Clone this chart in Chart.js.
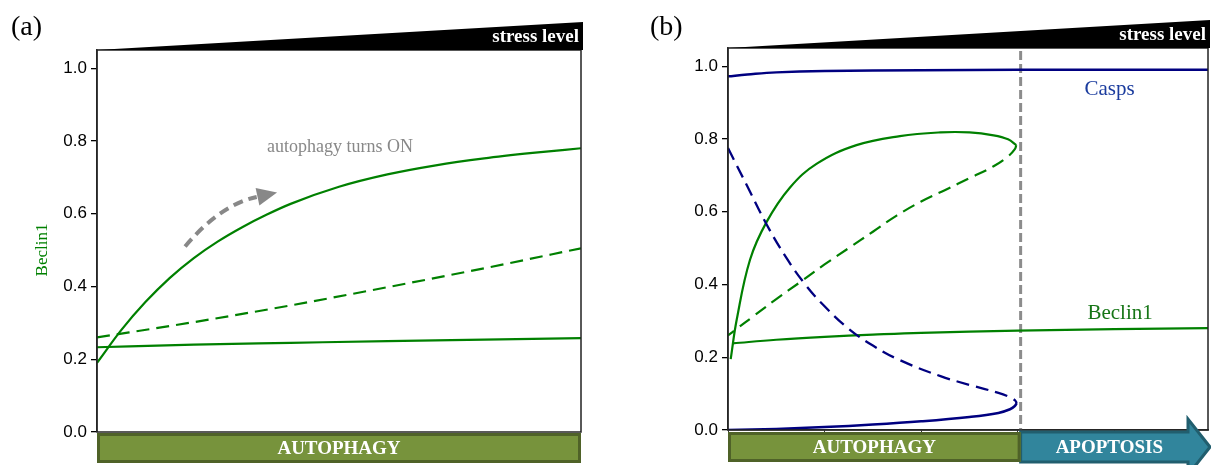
<!DOCTYPE html>
<html>
<head>
<meta charset="utf-8">
<script src="https://cdn.jsdelivr.net/npm/chart.js@4.4.1/dist/chart.umd.min.js"></script>
<style>
  html, body { margin: 0; padding: 0; background: #fff; }
  #wrap { position: relative; width: 1211px; height: 465px; overflow: hidden; background: #fff; }
  .pane { position: absolute; top: 0; height: 465px; }
</style>
</head>
<body>
<div id="wrap">
  <div class="pane" style="left:0;width:600px"><canvas id="chartA" width="600" height="465"></canvas></div>
  <div class="pane" style="left:620px;width:591px"><canvas id="chartB" width="591" height="465"></canvas></div>
</div>
<script>
// ---------- shared tick values ----------
const yTickValues = [0, 0.2, 0.4, 0.6, 0.8, 1.0];
const bStressTicks = [0, 1, 2, 3, 4];

// ---------- panel (a): Beclin1 steady states vs stress ----------
const aUpperX = [0, 0.5, 1, 1.5, 2, 2.5, 3, 3.5, 4, 5, 6, 7, 8, 9, 10];
const aUpperY = [0.19, 0.28, 0.357, 0.423, 0.478, 0.524, 0.563, 0.597, 0.627, 0.674, 0.708, 0.733, 0.752, 0.767, 0.78];
const aUnstableX = [0, 2, 4, 6, 8, 10];
const aUnstableY = [0.26, 0.302, 0.348, 0.398, 0.45, 0.505];
const aLowerX = [0, 2, 4, 6, 8, 10];
const aLowerY = [0.233, 0.24, 0.245, 0.25, 0.254, 0.258];
// curved "turns ON" arrow (start, control, end, tip) in stress/Beclin1 units
const aArrowX = [1.82, 2.55, 3.3, 3.72];
const aArrowY = [0.51, 0.625, 0.646, 0.658];

// ---------- panel (b): Beclin1 and Casps vs stress ----------
const bBeclinHighX = [0.028, 0.09, 0.228, 0.4, 0.64, 0.92, 1.33, 1.78, 2.2, 2.5, 2.75, 2.9, 2.985];
const bBeclinHighY = [0.195, 0.303, 0.468, 0.572, 0.666, 0.732, 0.783, 0.808, 0.818, 0.818, 0.81, 0.799, 0.783];
const bBeclinMidX = [2.985, 2.97, 2.9, 2.75, 2.5, 2.25, 2.0, 1.75, 1.5, 1.25, 1.0, 0.75, 0.5, 0.25, 0.1, 0.0];
const bBeclinMidY = [0.783, 0.772, 0.752, 0.725, 0.692, 0.66, 0.628, 0.59, 0.545, 0.50, 0.455, 0.407, 0.36, 0.31, 0.28, 0.26];
const bBeclinLowX = [0.05, 0.5, 1, 1.5, 2, 3, 4, 4.97];
const bBeclinLowY = [0.238, 0.248, 0.256, 0.262, 0.267, 0.273, 0.277, 0.28];
const bCaspsHighX = [0, 0.2, 0.5, 1, 2, 3, 4, 4.97];
const bCaspsHighY = [0.972, 0.977, 0.983, 0.987, 0.989, 0.99, 0.99, 0.99];
const bCaspsMidX = [0.0, 0.2, 0.4, 0.6, 0.8, 1.0, 1.25, 1.5, 1.78, 2.2, 2.5, 2.8, 2.92, 2.97, 2.99];
const bCaspsMidY = [0.775, 0.67, 0.565, 0.475, 0.40, 0.34, 0.278, 0.232, 0.192, 0.148, 0.124, 0.102, 0.09, 0.082, 0.074];
const bCaspsLowX = [0, 0.5, 1.0, 1.5, 2.0, 2.5, 2.8, 2.92, 2.97, 2.99];
const bCaspsLowY = [0.0, 0.003, 0.008, 0.015, 0.024, 0.036, 0.047, 0.057, 0.066, 0.074];
const bSwitchStress = 3.03;

const GREEN = '#008000';
const NAVY = '#000080';
const SERIF = '"Liberation Serif", "Times New Roman", serif';
const SANS = '"Liberation Sans", Arial, sans-serif';

function pts(xs, ys) { return xs.map((x, i) => ({ x: x, y: ys[i] })); }

function lineSet(xs, ys, color, dashed, width, monotone) {
  const ds = {
    data: pts(xs, ys),
    borderColor: color,
    borderWidth: width || 2.2,
    borderDash: dashed ? [13, 7] : [],
    pointRadius: 0,
    tension: 0.4,
    fill: false
  };
  if (monotone) ds.cubicInterpolationMode = 'monotone';
  return ds;
}

function yScale(px) {
  return {
    min: 0, max: 1.05,
    afterFit: s => { s.width = px; },
    afterBuildTicks: s => { s.ticks = yTickValues.map(v => ({ value: v })); },
    grid: { drawOnChartArea: false, tickLength: 6, color: '#000', lineWidth: 1.3 },
    border: { color: '#333', width: 1.5 },
    ticks: { color: '#000', font: { family: SANS, size: 17 }, padding: 4, callback: v => Number(v).toFixed(1) }
  };
}

// black wedge with "stress level" above a plot area
function drawStress(ctx, a) {
  ctx.save();
  ctx.fillStyle = '#000';
  ctx.beginPath();
  ctx.moveTo(a.left, a.top);
  ctx.lineTo(a.right + 2, a.top - 28);
  ctx.lineTo(a.right + 2, a.top);
  ctx.closePath();
  ctx.fill();
  ctx.fillStyle = '#fff';
  ctx.font = 'bold 19px ' + SERIF;
  ctx.textAlign = 'right';
  ctx.textBaseline = 'alphabetic';
  ctx.fillText('stress level', a.right - 2, a.top - 8);
  ctx.restore();
}

function drawFrame(ctx, a) {
  ctx.save();
  ctx.strokeStyle = '#222';
  ctx.lineWidth = 1.5;
  ctx.strokeRect(a.left, a.top, a.right - a.left, a.bottom - a.top);
  ctx.restore();
}

function drawBox(ctx, x0, x1, y0, y1, fill, edge, text) {
  ctx.save();
  ctx.fillStyle = fill;
  ctx.strokeStyle = edge;
  ctx.lineWidth = 3;
  ctx.fillRect(x0, y0, x1 - x0, y1 - y0);
  ctx.strokeRect(x0 + 1.5, y0 + 1.5, x1 - x0 - 3, y1 - y0 - 3);
  ctx.fillStyle = '#fff';
  ctx.font = 'bold 19px ' + SERIF;
  ctx.textAlign = 'center';
  ctx.textBaseline = 'middle';
  ctx.fillText(text, (x0 + x1) / 2, (y0 + y1) / 2 + 1);
  ctx.restore();
}

function drawLabel(ctx, text, x, y, font, color, align) {
  ctx.save();
  ctx.font = font;
  ctx.fillStyle = color;
  ctx.textAlign = align || 'left';
  ctx.textBaseline = 'alphabetic';
  ctx.fillText(text, x, y);
  ctx.restore();
}

const decorA = {
  id: 'decorA',
  afterDraw(chart) {
    const ctx = chart.ctx, a = chart.chartArea;
    const sx = chart.scales.x, sy = chart.scales.y;
    drawFrame(ctx, a);
    drawStress(ctx, a);
    drawLabel(ctx, '(a)', 11, 35, '28px ' + SERIF, '#000');
    // y axis title
    ctx.save();
    ctx.translate(47, 250);
    ctx.rotate(-Math.PI / 2);
    ctx.font = '17px ' + SERIF;
    ctx.fillStyle = GREEN;
    ctx.textAlign = 'center';
    ctx.textBaseline = 'alphabetic';
    ctx.fillText('Beclin1', 0, 0);
    ctx.restore();
    // "autophagy turns ON" annotation with curved arrow
    drawLabel(ctx, 'autophagy turns ON', sx.getPixelForValue(5.02), sy.getPixelForValue(0.77),
      '18px ' + SERIF, '#888', 'center');
    const P = aArrowX.map((x, i) => [sx.getPixelForValue(x), sy.getPixelForValue(aArrowY[i])]);
    ctx.save();
    ctx.strokeStyle = '#888';
    ctx.fillStyle = '#888';
    ctx.lineWidth = 4;
    ctx.setLineDash([10, 6]);
    ctx.beginPath();
    ctx.moveTo(P[0][0], P[0][1]);
    ctx.quadraticCurveTo(P[1][0], P[1][1], P[2][0], P[2][1]);
    ctx.stroke();
    ctx.setLineDash([]);
    const ang = Math.atan2(P[3][1] - P[2][1], P[3][0] - P[2][0]);
    const len = 20, half = 9;
    const bx = P[3][0] - len * Math.cos(ang), by = P[3][1] - len * Math.sin(ang);
    ctx.beginPath();
    ctx.moveTo(P[3][0], P[3][1]);
    ctx.lineTo(bx + half * Math.sin(ang), by - half * Math.cos(ang));
    ctx.lineTo(bx - half * Math.sin(ang), by + half * Math.cos(ang));
    ctx.closePath();
    ctx.fill();
    ctx.restore();
    // regime bar
    drawBox(ctx, a.left, a.right, a.bottom + 1, a.bottom + 31, '#77933C', '#4F6228', 'AUTOPHAGY');
  }
};

const decorB = {
  id: 'decorB',
  beforeDatasetsDraw(chart) {
    const ctx = chart.ctx, a = chart.chartArea;
    const x = chart.scales.x.getPixelForValue(bSwitchStress);
    ctx.save();
    ctx.strokeStyle = '#8c8c8c';
    ctx.lineWidth = 3;
    ctx.setLineDash([9, 4]);
    ctx.beginPath();
    ctx.moveTo(x, a.top + 3);
    ctx.lineTo(x, a.bottom);
    ctx.stroke();
    ctx.restore();
  },
  afterDraw(chart) {
    const ctx = chart.ctx, a = chart.chartArea;
    const sx = chart.scales.x, sy = chart.scales.y;
    drawFrame(ctx, a);
    drawStress(ctx, a);
    drawLabel(ctx, '(b)', 30, 35, '28px ' + SERIF, '#000');
    drawLabel(ctx, 'Casps', sx.getPixelForValue(3.95), sy.getPixelForValue(0.92), '21px ' + SERIF, '#1B3C9E', 'center');
    drawLabel(ctx, 'Beclin1', sx.getPixelForValue(4.06), sy.getPixelForValue(0.304), '21px ' + SERIF, '#167516', 'center');
    const xs = sx.getPixelForValue(bSwitchStress);
    const y0 = a.bottom + 2, y1 = a.bottom + 32;
    // apoptosis arrow
    const headX = a.right - 20, tipX = a.right + 2, midY = (y0 + y1) / 2;
    ctx.save();
    ctx.fillStyle = '#31859C';
    ctx.strokeStyle = '#215E6E';
    ctx.lineWidth = 3;
    ctx.lineJoin = 'miter';
    ctx.beginPath();
    ctx.moveTo(xs, y0);
    ctx.lineTo(headX, y0);
    ctx.lineTo(headX, midY - 28);
    ctx.lineTo(tipX, midY);
    ctx.lineTo(headX, midY + 28);
    ctx.lineTo(headX, y1);
    ctx.lineTo(xs, y1);
    ctx.closePath();
    ctx.fill();
    ctx.stroke();
    ctx.fillStyle = '#fff';
    ctx.font = 'bold 19px ' + SERIF;
    ctx.textAlign = 'center';
    ctx.textBaseline = 'middle';
    ctx.fillText('APOPTOSIS', (xs + headX) / 2 + 5, midY + 1);
    ctx.restore();
    drawBox(ctx, a.left, xs, y0, y1, '#77933C', '#4F6228', 'AUTOPHAGY');
  }
};

new Chart(document.getElementById('chartA'), {
  type: 'line',
  data: {
    datasets: [
      lineSet(aUpperX, aUpperY, GREEN, false, 2.2, true),
      lineSet(aUnstableX, aUnstableY, GREEN, true, 2.2, true),
      lineSet(aLowerX, aLowerY, GREEN, false, 2.2, true)
    ]
  },
  options: {
    responsive: false,
    animation: false,
    layout: { padding: { left: 0, top: 50, right: 19, bottom: 33 } },
    plugins: { legend: { display: false }, tooltip: { enabled: false } },
    scales: {
      x: { type: 'linear', min: 0, max: 10, display: false },
      y: yScale(97)
    }
  },
  plugins: [decorA]
});

new Chart(document.getElementById('chartB'), {
  type: 'line',
  data: {
    datasets: [
      lineSet(bCaspsHighX, bCaspsHighY, NAVY, false, 2.5),
      lineSet(bCaspsMidX, bCaspsMidY, NAVY, true, 2.3),
      lineSet(bCaspsLowX, bCaspsLowY, NAVY, false, 2.5),
      lineSet(bBeclinHighX, bBeclinHighY, GREEN, false),
      lineSet(bBeclinMidX, bBeclinMidY, GREEN, true),
      lineSet(bBeclinLowX, bBeclinLowY, GREEN, false)
    ]
  },
  options: {
    responsive: false,
    animation: false,
    layout: { padding: { left: 0, top: 48, right: 3, bottom: 30 } },
    plugins: { legend: { display: false }, tooltip: { enabled: false } },
    scales: {
      x: {
        type: 'linear', min: 0, max: 4.97,
        afterFit: s => { s.height = 5; },
        afterBuildTicks: s => { s.ticks = bStressTicks.map(v => ({ value: v })); },
        grid: { drawOnChartArea: false, tickLength: 5, color: '#333' },
        border: { color: '#333', width: 1.5 },
        ticks: { display: false }
      },
      y: yScale(108)
    }
  },
  plugins: [decorB]
});
</script>
</body>
</html>
